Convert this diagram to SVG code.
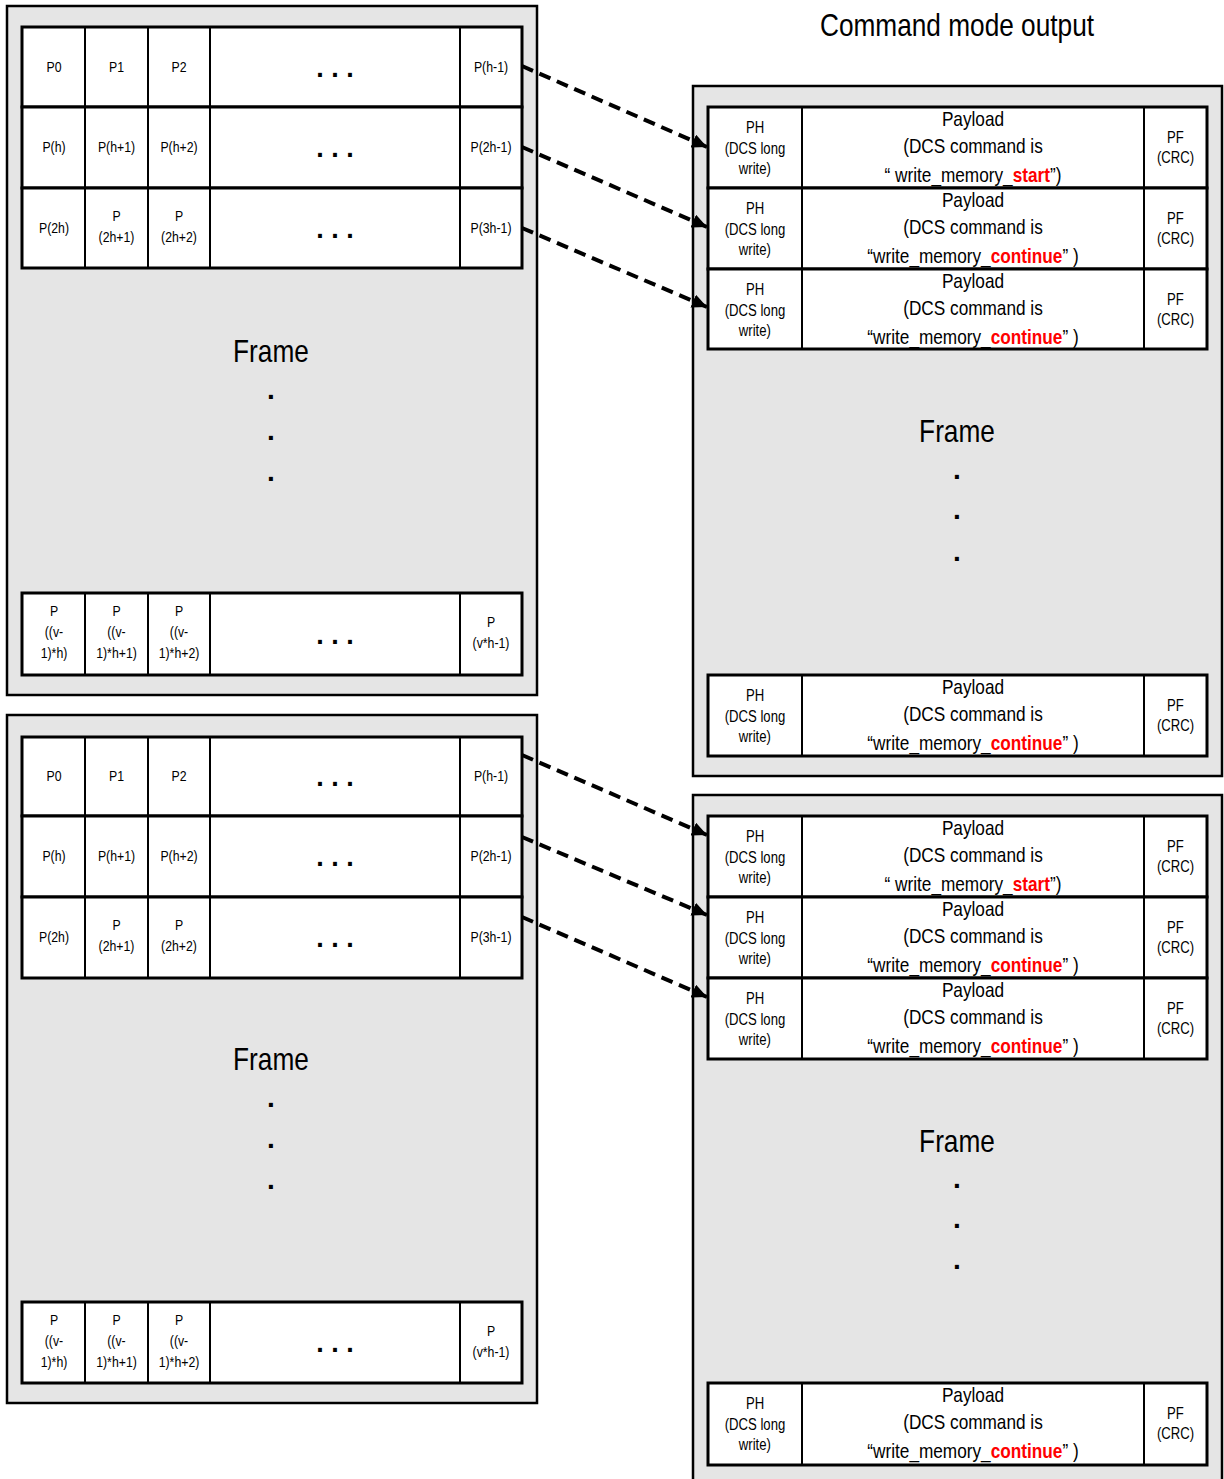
<svg xmlns="http://www.w3.org/2000/svg" width="1224" height="1479" viewBox="0 0 1224 1479">
<defs>
<style>
.frame{fill:#e5e5e5;stroke:#000;stroke-width:2.5}
.row{fill:#fff;stroke:#000;stroke-width:3}
.col{stroke:#000;stroke-width:2}
text{font-family:"Liberation Sans",Arial,sans-serif;fill:#000;text-anchor:middle;transform-box:fill-box;transform-origin:center;transform:scaleX(0.82)}
.c{font-size:15px}
.ph{font-size:16px}
.pl{font-size:21px}
.big{font-size:32px}
.ell{font-size:27px;font-weight:bold;transform:none}
.dot{font-size:28px;font-weight:bold;transform:none}
.red{fill:#ff0000;font-weight:bold}
.arrow{fill:none;stroke:#000;stroke-width:4;stroke-dasharray:12 7;marker-end:url(#ah)}
</style>
<marker id="ah" markerUnits="userSpaceOnUse" markerWidth="16" markerHeight="14" refX="15" refY="7" orient="auto">
<path d="M0,0 L15,7 L0,14 z" fill="#000"/>
</marker>
</defs>
<rect width="1224" height="1479" fill="#fff"/>

<text id="title" class="big" x="957" y="36">Command mode output</text>

<!-- LEFT FRAME 1 -->
<g id="left-frame-1">
<rect class="frame" x="7" y="6" width="530" height="689"/>
<text class="big" x="271" y="362">Frame</text>
<text class="dot" x="271" y="399">.</text>
<text class="dot" x="271" y="440">.</text>
<text class="dot" x="271" y="481">.</text>
</g>
<g id="left1-row1">
<rect class="row" x="22" y="27" width="500" height="80"/>
<path class="col" d="M85,27V107M148,27V107M210,27V107M460,27V107"/>
<text class="c" x="54" y="72">P0</text>
<text class="c" x="116.5" y="72">P1</text>
<text class="c" x="179" y="72">P2</text>
<text class="ell" x="335" y="76.5">. . .</text>
<text class="c" x="491" y="72">P(h-1)</text>
</g>
<g id="left1-row2">
<rect class="row" x="22" y="107" width="500" height="81"/>
<path class="col" d="M85,107V188M148,107V188M210,107V188M460,107V188"/>
<text class="c" x="54" y="152.5">P(h)</text>
<text class="c" x="116.5" y="152.5">P(h+1)</text>
<text class="c" x="179" y="152.5">P(h+2)</text>
<text class="ell" x="335" y="157">. . .</text>
<text class="c" x="491" y="152.5">P(2h-1)</text>
</g>
<g id="left1-row3">
<rect class="row" x="22" y="188" width="500" height="80"/>
<path class="col" d="M85,188V268M148,188V268M210,188V268M460,188V268"/>
<text class="c" x="54" y="233">P(2h)</text>
<text class="c" x="116.5" y="221">P</text>
<text class="c" x="116.5" y="242">(2h+1)</text>
<text class="c" x="179" y="221">P</text>
<text class="c" x="179" y="242">(2h+2)</text>
<text class="ell" x="335" y="237.5">. . .</text>
<text class="c" x="491" y="233">P(3h-1)</text>
</g>
<g id="left1-row-last">
<rect class="row" x="22" y="593" width="500" height="82"/>
<path class="col" d="M85,593V675M148,593V675M210,593V675M460,593V675"/>
<text class="c" x="54" y="616">P</text>
<text class="c" x="54" y="637">((v-</text>
<text class="c" x="54" y="658">1)*h)</text>
<text class="c" x="116.5" y="616">P</text>
<text class="c" x="116.5" y="637">((v-</text>
<text class="c" x="116.5" y="658">1)*h+1)</text>
<text class="c" x="179" y="616">P</text>
<text class="c" x="179" y="637">((v-</text>
<text class="c" x="179" y="658">1)*h+2)</text>
<text class="ell" x="335" y="643.5">. . .</text>
<text class="c" x="491" y="627">P</text>
<text class="c" x="491" y="648">(v*h-1)</text>
</g>

<!-- LEFT FRAME 2 -->
<g id="left-frame-2">
<rect class="frame" x="7" y="715" width="530" height="688"/>
<text class="big" x="271" y="1070">Frame</text>
<text class="dot" x="271" y="1107">.</text>
<text class="dot" x="271" y="1148">.</text>
<text class="dot" x="271" y="1189">.</text>
</g>
<g id="left2-row1">
<rect class="row" x="22" y="737" width="500" height="79"/>
<path class="col" d="M85,737V816M148,737V816M210,737V816M460,737V816"/>
<text class="c" x="54" y="781.5">P0</text>
<text class="c" x="116.5" y="781.5">P1</text>
<text class="c" x="179" y="781.5">P2</text>
<text class="ell" x="335" y="786">. . .</text>
<text class="c" x="491" y="781.5">P(h-1)</text>
</g>
<g id="left2-row2">
<rect class="row" x="22" y="816" width="500" height="81"/>
<path class="col" d="M85,816V897M148,816V897M210,816V897M460,816V897"/>
<text class="c" x="54" y="861.5">P(h)</text>
<text class="c" x="116.5" y="861.5">P(h+1)</text>
<text class="c" x="179" y="861.5">P(h+2)</text>
<text class="ell" x="335" y="866">. . .</text>
<text class="c" x="491" y="861.5">P(2h-1)</text>
</g>
<g id="left2-row3">
<rect class="row" x="22" y="897" width="500" height="81"/>
<path class="col" d="M85,897V978M148,897V978M210,897V978M460,897V978"/>
<text class="c" x="54" y="942.5">P(2h)</text>
<text class="c" x="116.5" y="930.5">P</text>
<text class="c" x="116.5" y="951.5">(2h+1)</text>
<text class="c" x="179" y="930.5">P</text>
<text class="c" x="179" y="951.5">(2h+2)</text>
<text class="ell" x="335" y="947">. . .</text>
<text class="c" x="491" y="942.5">P(3h-1)</text>
</g>
<g id="left2-row-last">
<rect class="row" x="22" y="1302" width="500" height="81"/>
<path class="col" d="M85,1302V1383M148,1302V1383M210,1302V1383M460,1302V1383"/>
<text class="c" x="54" y="1325">P</text>
<text class="c" x="54" y="1346">((v-</text>
<text class="c" x="54" y="1367">1)*h)</text>
<text class="c" x="116.5" y="1325">P</text>
<text class="c" x="116.5" y="1346">((v-</text>
<text class="c" x="116.5" y="1367">1)*h+1)</text>
<text class="c" x="179" y="1325">P</text>
<text class="c" x="179" y="1346">((v-</text>
<text class="c" x="179" y="1367">1)*h+2)</text>
<text class="ell" x="335" y="1352">. . .</text>
<text class="c" x="491" y="1336">P</text>
<text class="c" x="491" y="1357">(v*h-1)</text>
</g>

<!-- RIGHT FRAME 1 -->
<g id="right-frame-1">
<rect class="frame" x="693" y="86" width="529" height="690"/>
<text class="big" x="957" y="442">Frame</text>
<text class="dot" x="957" y="479">.</text>
<text class="dot" x="957" y="519">.</text>
<text class="dot" x="957" y="561">.</text>
</g>
<g id="right1-pkt1">
<rect class="row" x="708" y="107" width="499" height="81"/>
<path class="col" d="M802,107V188M1144,107V188"/>
<text class="ph" x="755" y="133">PH</text>
<text class="ph" x="755" y="154">(DCS long</text>
<text class="ph" x="755" y="174">write)</text>
<text class="pl" x="973" y="126">Payload</text>
<text class="pl" x="973" y="153">(DCS command is</text>
<text class="pl" x="973" y="182">“ write_memory_<tspan class="red">start</tspan>”)</text>
<text class="ph" x="1175.5" y="143">PF</text>
<text class="ph" x="1175.5" y="163">(CRC)</text>
</g>
<g id="right1-pkt2">
<rect class="row" x="708" y="188" width="499" height="81"/>
<path class="col" d="M802,188V269M1144,188V269"/>
<text class="ph" x="755" y="214">PH</text>
<text class="ph" x="755" y="235">(DCS long</text>
<text class="ph" x="755" y="255">write)</text>
<text class="pl" x="973" y="207">Payload</text>
<text class="pl" x="973" y="234">(DCS command is</text>
<text class="pl" x="973" y="263">“write_memory_<tspan class="red">continue</tspan>” )</text>
<text class="ph" x="1175.5" y="224">PF</text>
<text class="ph" x="1175.5" y="244">(CRC)</text>
</g>
<g id="right1-pkt3">
<rect class="row" x="708" y="269" width="499" height="80"/>
<path class="col" d="M802,269V349M1144,269V349"/>
<text class="ph" x="755" y="295">PH</text>
<text class="ph" x="755" y="316">(DCS long</text>
<text class="ph" x="755" y="336">write)</text>
<text class="pl" x="973" y="288">Payload</text>
<text class="pl" x="973" y="315">(DCS command is</text>
<text class="pl" x="973" y="344">“write_memory_<tspan class="red">continue</tspan>” )</text>
<text class="ph" x="1175.5" y="305">PF</text>
<text class="ph" x="1175.5" y="325">(CRC)</text>
</g>
<g id="right1-pkt-last">
<rect class="row" x="708" y="675" width="499" height="81"/>
<path class="col" d="M802,675V756M1144,675V756"/>
<text class="ph" x="755" y="701">PH</text>
<text class="ph" x="755" y="722">(DCS long</text>
<text class="ph" x="755" y="742">write)</text>
<text class="pl" x="973" y="694">Payload</text>
<text class="pl" x="973" y="721">(DCS command is</text>
<text class="pl" x="973" y="750">“write_memory_<tspan class="red">continue</tspan>” )</text>
<text class="ph" x="1175.5" y="711">PF</text>
<text class="ph" x="1175.5" y="731">(CRC)</text>
</g>

<!-- RIGHT FRAME 2 -->
<g id="right-frame-2">
<rect class="frame" x="693" y="795" width="529" height="700"/>
<text class="big" x="957" y="1152">Frame</text>
<text class="dot" x="957" y="1188">.</text>
<text class="dot" x="957" y="1228">.</text>
<text class="dot" x="957" y="1269">.</text>
</g>
<g id="right2-pkt1">
<rect class="row" x="708" y="816" width="499" height="81"/>
<path class="col" d="M802,816V897M1144,816V897"/>
<text class="ph" x="755" y="842">PH</text>
<text class="ph" x="755" y="863">(DCS long</text>
<text class="ph" x="755" y="883">write)</text>
<text class="pl" x="973" y="835">Payload</text>
<text class="pl" x="973" y="862">(DCS command is</text>
<text class="pl" x="973" y="891">“ write_memory_<tspan class="red">start</tspan>”)</text>
<text class="ph" x="1175.5" y="852">PF</text>
<text class="ph" x="1175.5" y="872">(CRC)</text>
</g>
<g id="right2-pkt2">
<rect class="row" x="708" y="897" width="499" height="81"/>
<path class="col" d="M802,897V978M1144,897V978"/>
<text class="ph" x="755" y="923">PH</text>
<text class="ph" x="755" y="944">(DCS long</text>
<text class="ph" x="755" y="964">write)</text>
<text class="pl" x="973" y="916">Payload</text>
<text class="pl" x="973" y="943">(DCS command is</text>
<text class="pl" x="973" y="972">“write_memory_<tspan class="red">continue</tspan>” )</text>
<text class="ph" x="1175.5" y="933">PF</text>
<text class="ph" x="1175.5" y="953">(CRC)</text>
</g>
<g id="right2-pkt3">
<rect class="row" x="708" y="978" width="499" height="81"/>
<path class="col" d="M802,978V1059M1144,978V1059"/>
<text class="ph" x="755" y="1004">PH</text>
<text class="ph" x="755" y="1025">(DCS long</text>
<text class="ph" x="755" y="1045">write)</text>
<text class="pl" x="973" y="997">Payload</text>
<text class="pl" x="973" y="1024">(DCS command is</text>
<text class="pl" x="973" y="1053">“write_memory_<tspan class="red">continue</tspan>” )</text>
<text class="ph" x="1175.5" y="1014">PF</text>
<text class="ph" x="1175.5" y="1034">(CRC)</text>
</g>
<g id="right2-pkt-last">
<rect class="row" x="708" y="1383" width="499" height="82"/>
<path class="col" d="M802,1383V1465M1144,1383V1465"/>
<text class="ph" x="755" y="1409">PH</text>
<text class="ph" x="755" y="1430">(DCS long</text>
<text class="ph" x="755" y="1450">write)</text>
<text class="pl" x="973" y="1402">Payload</text>
<text class="pl" x="973" y="1429">(DCS command is</text>
<text class="pl" x="973" y="1458">“write_memory_<tspan class="red">continue</tspan>” )</text>
<text class="ph" x="1175.5" y="1419">PF</text>
<text class="ph" x="1175.5" y="1439">(CRC)</text>
</g>

<!-- CONNECTORS -->
<g id="connectors">
<path class="arrow" d="M522,66L707,147"/>
<path class="arrow" d="M522,147L707,227"/>
<path class="arrow" d="M522,228L707,307"/>
<path class="arrow" d="M522,755L707,835"/>
<path class="arrow" d="M522,837L707,915"/>
<path class="arrow" d="M522,917L707,997"/>
</g>
</svg>
